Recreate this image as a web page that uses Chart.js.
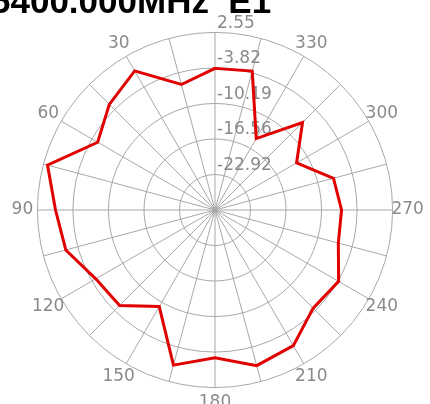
<!DOCTYPE html>
<html>
<head>
<meta charset="utf-8">
<script src="https://cdn.jsdelivr.net/npm/chart.js@4"></script>
<style>
  html, body { margin: 0; padding: 0; background: #fff; overflow: hidden; }
  #wrap { position: relative; width: 430px; height: 404px; overflow: hidden; }
  #title { position: absolute; left: -9px; top: -19px; font: bold 35px "Liberation Sans", Arial, sans-serif; color: #000; white-space: pre; }
  canvas { position: absolute; left: -15px; top: -10px; }
</style>
</head>
<body>
<div id="wrap">
  <canvas id="myChart" width="460" height="440"></canvas>
  <div id="title">5400.000MHz  E1</div>
</div>
<script>
(function () {
    "use strict";

    // angles counter-clockwise from top, in degrees
    const angles = [0, 15, 30, 45, 60, 75, 90, 105, 120, 135, 150, 165,
                    180, 195, 210, 225, 240, 255, 270, 285, 300, 315, 330, 345];
    // gain (dB)
    const gain = [-3.9, -6.0, -0.5, -2.5, -5.0, 1.8, -0.7, -1.6, -4.6, -5.1, -9.3, -0.5,
                  -2.8, -0.4, -1.2, -4.4, -3.7, -6.4, -6.6, -7.3, -12.4, -7.1, -14.5, -3.5];
    // ring values and labels
    const ringValues = [-29.29, -22.92, -16.56, -10.19, -3.82, 2.55];
    const ringLabels = ['', '-22.92', '-16.56', '-10.19', '-3.82', '2.55'];

    // radar goes clockwise, the plot goes counter-clockwise
    const labels = [];
    const data = [];
    for (let i = 0; i < angles.length; i++) {
        const a = (360 - angles[i]) % 360;
        const k = angles.indexOf(a);
        labels.push(String(a));
        data.push(gain[k]);
    }

    function shownLabel(label) {
        const a = Number(label);
        return (a % 30 === 0 && a !== 0) ? label : '';
    }

    // ring values drawn just above each ring, angle labels centred outside the rim
    const labelPlugin = {
        id: 'polarLabels',
        beforeDatasetsDraw(chart) {
            const scale = chart.scales.r;
            const ctx = chart.ctx;
            ctx.save();
            ctx.font = '17px "DejaVu Sans"';
            ctx.fillStyle = '#8a8a8a';
            ctx.textAlign = 'left';
            ctx.textBaseline = 'middle';
            ringValues.forEach(function (v, i) {
                if (!ringLabels[i]) return;
                const d = scale.getDistanceFromCenterForValue(v);
                ctx.fillText(ringLabels[i], scale.xCenter + 2, scale.yCenter - d - 9);
            });
            ctx.textAlign = 'center';
            labels.forEach(function (lab, i) {
                const txt = shownLabel(lab);
                if (!txt) return;
                const p = scale.getPointPosition(i, scale.drawingArea + 15);
                ctx.fillText(txt, p.x, p.y);
            });
            ctx.restore();
        }
    };

    const ctx = document.getElementById('myChart').getContext('2d');
    const chart = new Chart(ctx, {
        type: 'radar',
        data: {
            labels: labels,
            datasets: [{
                data: data,
                borderColor: '#e00000',
                borderWidth: 3,
                fill: false,
                pointRadius: 0,
                tension: 0
            }]
        },
        options: {
            responsive: false,
            animation: false,
            layout: { padding: { top: 19, bottom: 19, left: 20, right: 8 } },
            plugins: {
                legend: { display: false },
                tooltip: { enabled: false }
            },
            scales: {
                r: {
                    min: -29.29,
                    max: 2.55,
                    afterBuildTicks: function (scale) {
                        scale.ticks = ringValues.map(function (v) { return { value: v }; });
                    },
                    ticks: { display: false },
                    grid: { circular: true, color: '#a8a8a8', lineWidth: 1 },
                    angleLines: { color: '#a8a8a8', lineWidth: 1 },
                    pointLabels: {
                        // kept for layout, drawn by the plugin above
                        color: 'rgba(0,0,0,0)',
                        padding: 3,
                        font: { family: 'DejaVu Sans', size: 17 },
                        callback: shownLabel
                    }
                }
            }
        },
        plugins: [labelPlugin]
    });
})();
</script>
</body>
</html>
